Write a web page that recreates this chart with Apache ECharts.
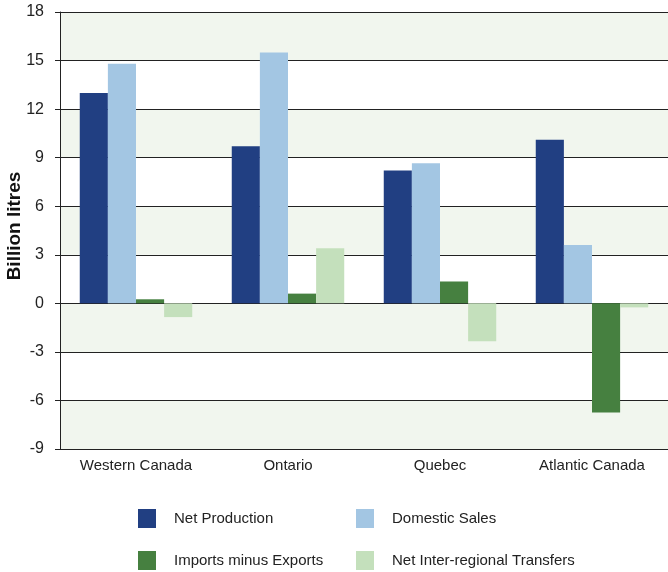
<!DOCTYPE html>
<html><head><meta charset="utf-8">
<script src="https://cdn.jsdelivr.net/npm/echarts@6/dist/echarts.min.js"></script>
<style>html,body{margin:0;padding:0;background:#fff}#c{width:668px;height:572px}</style>
</head><body><div id="c"></div>
<script>
var categories = ['Western Canada', 'Ontario', 'Quebec', 'Atlantic Canada'];
var netProduction = [13.0, 9.7, 8.2, 10.1];
var domesticSales = [14.8, 15.5, 8.65, 3.6];
var importsMinusExports = [0.25, 0.6, 1.35, -6.75];
var netTransfers = [-0.85, 3.4, -2.35, -0.25];
var yTicks = [-9, -6, -3, 0, 3, 6, 9, 12, 15, 18];
var yTitle = 'Billion litres';

var FONT = "'Liberation Sans Narrow', 'Arial Narrow', 'Liberation Sans', sans-serif";
var colors = ['#213f82', '#a3c6e3', '#468040', '#c4e0bc'];
var chart = echarts.init(document.getElementById('c'));

// shaded bands: every other interval starting at the bottom
var bands = [];
for (var k = 0; k < yTicks.length - 1; k += 2) {
  bands.push([{ yAxis: yTicks[k] }, { yAxis: yTicks[k + 1] }]);
}
function bar(name, data, i) {
  return { name: name, type: 'bar', data: data, barGap: '0%', barCategoryGap: '26%',
    itemStyle: { color: colors[i] }, z: 3 };
}
var legendText = { fontFamily: FONT, fontSize: 15, color: '#222', padding: [0, 0, 0, 13] };
chart.setOption({
  animation: false,
  color: colors,
  grid: { left: 60, top: 12, right: 0, bottom: 123, show: false, outerBoundsMode: 'none', containLabel: false },
  graphic: [{ type: 'text', x: 15, y: 226, rotation: Math.PI / 2,
    style: { text: yTitle, fontFamily: FONT, fontSize: 19, fontWeight: 'bold', fill: '#111',
      textAlign: 'center', textVerticalAlign: 'middle' } }],
  legend: [
    { orient: 'vertical', left: 138, top: 509, padding: 0, itemWidth: 18, itemHeight: 19, itemGap: 23,
      icon: 'rect', data: ['Net Production', 'Imports minus Exports'], textStyle: legendText },
    { orient: 'vertical', left: 356, top: 509, padding: 0, itemWidth: 18, itemHeight: 19, itemGap: 23,
      icon: 'rect', data: ['Domestic Sales', 'Net Inter-regional Transfers'], textStyle: legendText }
  ],
  xAxis: { type: 'category', data: categories,
    axisLine: { show: false, onZero: false }, axisTick: { show: false },
    axisLabel: { fontFamily: FONT, fontSize: 15, color: '#222', margin: 9, interval: 0 } },
  yAxis: { type: 'value', min: yTicks[0], max: yTicks[yTicks.length - 1], interval: 3,
    axisLine: { show: true, lineStyle: { color: '#222', width: 1 } },
    axisTick: { show: true, length: 5, lineStyle: { color: '#222', width: 1 } },
    axisLabel: { fontFamily: FONT, fontSize: 16, color: '#222', margin: 16 },
    splitLine: { show: true, lineStyle: { color: '#222', width: 1 } },
    splitArea: { show: false } },
  series: [
    { name: 'bands', type: 'line', data: [], z: -5, silent: true,
      markArea: { silent: true, z: -5, itemStyle: { color: '#f1f6ee' }, label: { show: false }, data: bands } },
    bar('Net Production', netProduction, 0),
    bar('Domestic Sales', domesticSales, 1),
    bar('Imports minus Exports', importsMinusExports, 2),
    bar('Net Inter-regional Transfers', netTransfers, 3)
  ]
});
</script></body></html>
